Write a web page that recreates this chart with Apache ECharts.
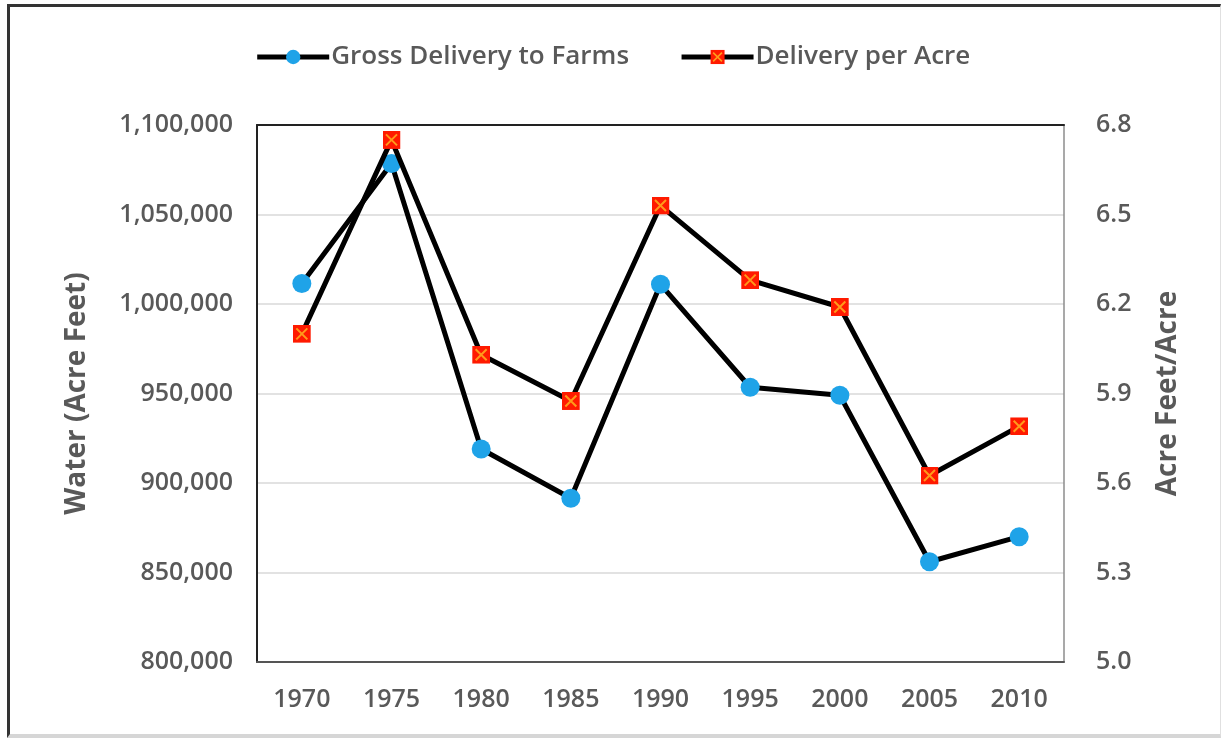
<!DOCTYPE html>
<html>
<head>
<meta charset="utf-8">
<script src="https://cdn.jsdelivr.net/npm/echarts@6/dist/echarts.min.js"></script>
<style>
  html, body { margin: 0; padding: 0; background: #ffffff; }
  #frame {
    position: absolute; left: 7px; top: 4px; width: 1214px; height: 734px;
    border-top: 3px solid #333; border-left: 3px solid #333;
    border-right: 1px solid #e0e0e0; border-bottom: 4px solid #d6d6d6;
    box-sizing: border-box;
  }
  #chart { position: absolute; left: 0; top: 0; width: 1225px; height: 744px; }
</style>
</head>
<body>
<div id="frame"></div>
<div id="chart"></div>
<script>
const years = ['1970', '1975', '1980', '1985', '1990', '1995', '2000', '2005', '2010'];
const grossDelivery = [1011500, 1078500, 919000, 891500, 1011000, 953500, 949000, 856000, 870000];
const deliveryPerAcre = [6.10, 6.75, 6.03, 5.875, 6.53, 6.28, 6.19, 5.625, 5.79];
const leftTicks = { min: 800000, max: 1100000, interval: 50000 };
const rightTicks = { min: 5.0, max: 6.8, interval: 0.3 };

const FONT = '"Open Sans", Lato, sans-serif';
const GRAY = '#595959';

const squareSvg = 'data:image/svg+xml;utf8,' + encodeURIComponent(
  '<svg xmlns="http://www.w3.org/2000/svg" width="18" height="18" viewBox="0 0 18 18">' +
  '<rect x="0" y="0" width="18" height="18" fill="#ff1a00"/>' +
  '<path d="M3.5 3.5 L14.5 14.5 M14.5 3.5 L3.5 14.5" stroke="#ff9a1a" stroke-width="2"/>' +
  '</svg>');

const chart = echarts.init(document.getElementById('chart'));
chart.setOption({
  animation: false,
  backgroundColor: 'transparent',
  textStyle: { fontFamily: FONT },
  legend: {
    top: 39,
    left: 'center',
    itemWidth: 72,
    itemHeight: 18,
    itemGap: 50,
    lineStyle: { width: 5, color: '#000' },
    textStyle: { fontFamily: FONT, fontSize: 26, color: GRAY, fontWeight: 600, padding: [0, 0, 0, -3] },
    data: ['Gross Delivery to Farms', 'Delivery per Acre']
  },
  grid: { left: 257, right: 161, top: 125, bottom: 82, show: false },
  xAxis: [
    {
      type: 'category',
      data: years,
      boundaryGap: true,
      axisLine: { show: true, lineStyle: { color: '#555', width: 2 } },
      axisTick: { show: false },
      axisLabel: { margin: 25, fontSize: 25, color: GRAY, fontFamily: FONT, fontWeight: 600 }
    },
    {
      type: 'category',
      data: years,
      position: 'top',
      boundaryGap: true,
      axisLine: { show: true, lineStyle: { color: '#222', width: 2 } },
      axisTick: { show: false },
      axisLabel: { show: false }
    }
  ],
  yAxis: [
    {
      type: 'value',
      min: leftTicks.min, max: leftTicks.max, interval: leftTicks.interval,
      name: 'Water (Acre Feet)',
      nameLocation: 'middle',
      nameGap: 166,
      nameTextStyle: { fontSize: 28, color: GRAY, fontWeight: 'bold', fontFamily: FONT },
      axisLine: { show: true, lineStyle: { color: '#222', width: 2 } },
      axisTick: { show: false },
      axisLabel: {
        margin: 24, fontSize: 25, color: GRAY, fontFamily: FONT, fontWeight: 600,
        formatter: v => v.toLocaleString('en-US')
      },
      splitLine: { show: true, lineStyle: { color: '#d9d9d9', width: 1.5 } }
    },
    {
      type: 'value',
      position: 'right',
      min: rightTicks.min, max: rightTicks.max, interval: rightTicks.interval,
      name: 'Acre Feet/Acre',
      nameLocation: 'middle',
      nameGap: 90,
      nameTextStyle: { fontSize: 28, color: GRAY, fontWeight: 'bold', fontFamily: FONT },
      axisLine: { show: true, lineStyle: { color: '#8c8c8c', width: 1.5 } },
      axisTick: { show: false },
      axisLabel: {
        margin: 32, fontSize: 25, color: GRAY, fontFamily: FONT, fontWeight: 600,
        formatter: v => v.toFixed(1)
      },
      splitLine: { show: false }
    }
  ],
  series: [
    {
      name: 'Gross Delivery to Farms',
      type: 'line',
      yAxisIndex: 0,
      data: grossDelivery,
      symbol: 'circle',
      symbolSize: 19,
      itemStyle: { color: '#1fa3e8' },
      lineStyle: { color: '#000', width: 5 },
      z: 2
    },
    {
      name: 'Delivery per Acre',
      type: 'line',
      yAxisIndex: 1,
      data: deliveryPerAcre,
      symbol: 'image://' + squareSvg,
      symbolSize: 18,
      itemStyle: { color: '#ff1a00' },
      lineStyle: { color: '#000', width: 5 },
      z: 3
    }
  ]
});
</script>
</body>
</html>
